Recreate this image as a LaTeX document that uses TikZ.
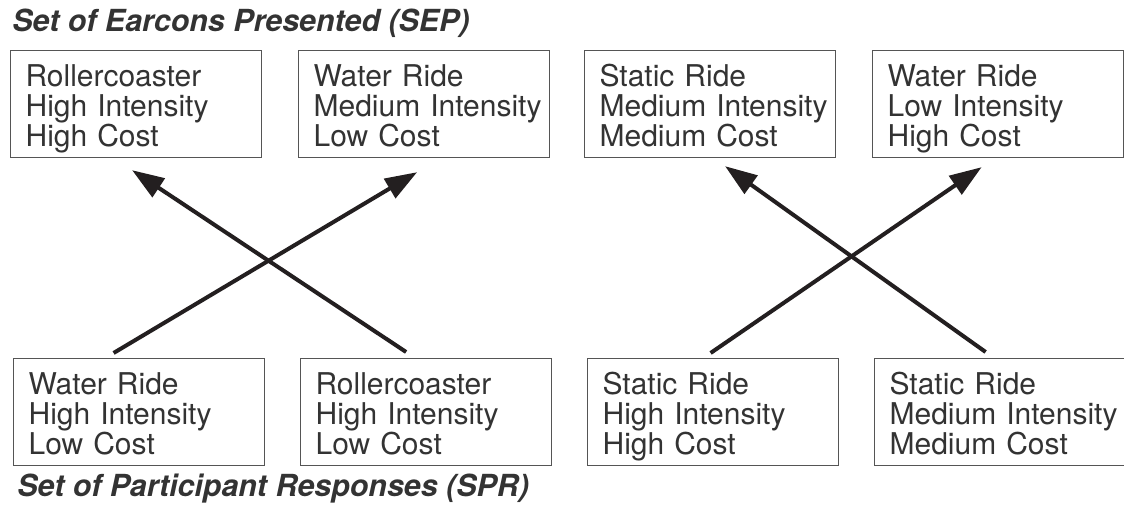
\documentclass[tikz,border=0pt]{standalone}
\usepackage{fontspec}
\setmainfont{TeX Gyre Heros}
\usetikzlibrary{arrows.meta}
\definecolor{inkgray}{HTML}{333333}
\definecolor{rulegray}{HTML}{555555}
\definecolor{arrowblack}{HTML}{231F20}
\tikzset{
  box/.style = {draw = rulegray, line width = 0.6pt, anchor = north west, text = inkgray,
    font = \fontsize{15}{15}\selectfont, text width = 125.5pt, align = left,
    inner xsep = 0pt, inner ysep = 0pt, text height = 18pt, text depth = 35.5pt,
    execute at begin node = {\leftskip = 7.5pt}},
  heading/.style = {anchor = base west, inner sep = 0pt, text = inkgray,
    font = \fontsize{15.2}{15.2}\selectfont\bfseries\itshape},
  link/.style = {draw = arrowblack, line width = 2pt, -{Triangle[length = 16pt, width = 11pt]}}
}
\begin{document}
\begin{tikzpicture}[x = 0.5pt, y = -0.5pt]
\useasboundingbox (0, 0) rectangle (1124, 506);
\node (sepTitle) at (12, 32) [heading] {Set of Earcons Presented (SEP)};
\node (sepA) at (10, 50) [box] {Rollercoaster\\High Intensity\\High Cost};
\node (sepB) at (298, 50) [box] {Water Ride\\Medium Intensity\\Low Cost};
\node (sepC) at (584, 50) [box] {Static Ride\\Medium Intensity\\Medium Cost};
\node (sepD) at (872, 50) [box] {Water Ride\\Low Intensity\\High Cost};
\node (sprA) at (13, 358) [box] {Water Ride\\High Intensity\\Low Cost};
\node (sprB) at (300, 358) [box] {Rollercoaster\\High Intensity\\Low Cost};
\node (sprC) at (587, 358) [box] {Static Ride\\High Intensity\\High Cost};
\node (sprD) at (874, 358) [box] {Static Ride\\Medium Intensity\\Medium Cost};
\node (sprTitle) at (17, 497) [heading] {Set of Participant Responses (SPR)};
\draw [link] ([shift = {(-25.5, -5)}] sprA.north) -- ([shift = {(-7, 14)}] sepB.south);
\draw [link] ([shift = {(-20, -6)}] sprB.north) -- ([shift = {(-4, 12)}] sepA.south);
\draw [link] ([shift = {(-2.5, -5)}] sprC.north) -- ([shift = {(-16.5, 9)}] sepD.south);
\draw [link] ([shift = {(-14.5, -6)}] sprD.north) -- ([shift = {(15, 8)}] sepC.south);
\end{tikzpicture}
\end{document}
